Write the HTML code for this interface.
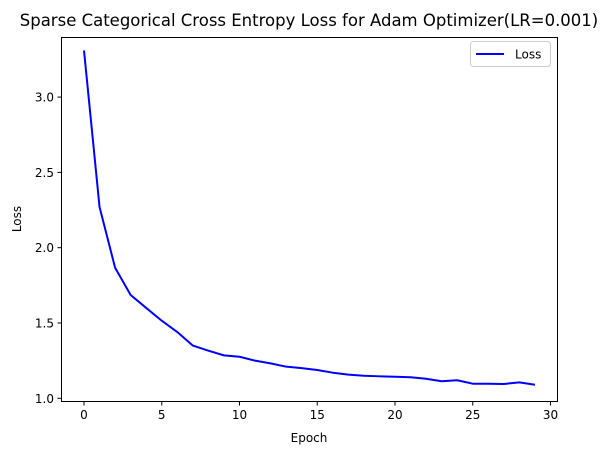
<!DOCTYPE html>
<html><head><meta charset="utf-8"><style>
body{margin:0;background:#fff;font-family:"Liberation Sans","DejaVu Sans",sans-serif;}
svg text{font-family:"DejaVu Sans","Liberation Sans",sans-serif;}
</style></head><body>
<svg id="chart" width="610" height="455" xmlns="http://www.w3.org/2000/svg">
<rect width="610" height="455" fill="#fff"/>
<text x="309" y="26" font-size="16.5" text-anchor="middle">Sparse Categorical Cross Entropy Loss for Adam Optimizer(LR=0.001)</text>
<g id="axes"></g>
<rect x="61.5" y="37.5" width="496" height="364" fill="none" stroke="#000" stroke-width="1"/>
<text x="309" y="442" font-size="12" text-anchor="middle">Epoch</text>
<text x="21" y="219" font-size="12" text-anchor="middle" transform="rotate(-90 21 219)">Loss</text>
<g>
<rect x="470.5" y="41.5" width="80" height="25" rx="3" fill="#fff" stroke="#ccc"/>
<line x1="476" y1="54" x2="504" y2="54" stroke="#0000ff" stroke-width="2"/>
<text x="515" y="58.5" font-size="12">Loss</text>
</g>
</svg>
<script>
const epochs=[0,1,2,3,4,5,6,7,8,9,10,11,12,13,14,15,16,17,18,19,20,21,22,23,24,25,26,27,28,29];
const lossValues=[3.31,2.27,1.867,1.686,1.60,1.515,1.44,1.35,1.316,1.285,1.276,1.25,1.232,1.21,1.20,1.188,1.17,1.157,1.15,1.146,1.143,1.14,1.13,1.113,1.12,1.097,1.097,1.095,1.106,1.09];
const xTicks=[0,5,10,15,20,25,30];
const yTicks=[1.0,1.5,2.0,2.5,3.0];
const xs=v=>84+v*15.55;
const ys=v=>398.3-(v-1)*150.6;
const NS="http://www.w3.org/2000/svg";
const svg=document.getElementById('chart');
const g=document.getElementById('axes');
function mk(t,a){const e=document.createElementNS(NS,t);for(const k in a)e.setAttribute(k,a[k]);return e;}
xTicks.forEach(t=>{
 const l=mk('line',{x1:xs(t),x2:xs(t),y1:401.5,y2:405.5,stroke:'#000'});
 
 
 g.appendChild(l);
 const tx=mk('text',{x:xs(t),y:419,'font-size':12,'text-anchor':'middle'});
 tx.textContent=t;
 
 
 g.appendChild(tx);
});
yTicks.forEach(t=>{
 const l=mk('line',{x1:57.5,x2:61.5,y1:ys(t),y2:ys(t),stroke:'#000'});
 
 
 g.appendChild(l);
 const tx=mk('text',{x:54,y:ys(t)+4.5,'font-size':12,'text-anchor':'end'});
 tx.textContent=t.toFixed(1);
 
 
 g.appendChild(tx);
});
const pts=epochs.map((e,i)=>xs(e)+','+ys(lossValues[i])).join(' ');
const line=mk('polyline',{points:pts,fill:'none',stroke:'#0000ff','stroke-width':2,'stroke-linejoin':'round'});


g.appendChild(line);
</script>
</body></html>
